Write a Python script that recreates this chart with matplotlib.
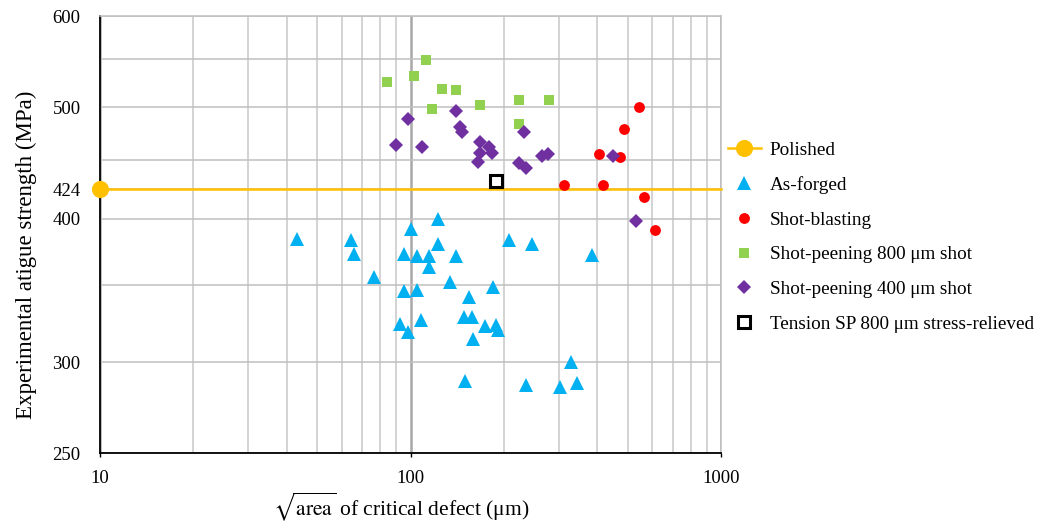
import matplotlib
matplotlib.use("Agg")
import matplotlib.pyplot as plt
from matplotlib.ticker import FixedLocator, NullFormatter, LogLocator

plt.rcParams['font.family'] = ['Liberation Serif', 'DejaVu Serif']
plt.rcParams['mathtext.fontset'] = 'stix'

# polished reference level
polished_x = [10, 1000]
polished_y = [424, 424]

# as-forged
forged_x = [43.0, 64.4, 65.7, 76.1, 95.5, 100.1, 104.9, 115.0, 115.0, 122.4,
            122.9, 139.9, 134.4, 95.5, 104.9, 92.5, 98.2, 107.9, 154.4, 148.8,
            157.8, 159.4, 173.2, 188.3, 191.9, 184.9, 149.4, 207.8, 246.5, 385.5,
            328.5, 235.2, 302.2, 344.2]
forged_y = [383.9, 382.8, 372.8, 355.5, 372.5, 391.7, 370.8, 370.8, 363.0, 380.0,
            400.0, 370.8, 352.2, 346.0, 346.4, 324.0, 318.6, 326.6, 341.9, 328.2,
            328.7, 314.0, 322.4, 323.0, 319.7, 349.1, 289.1, 382.8, 380.0, 372.0,
            300.4, 286.8, 285.7, 287.5]

# shot-blasting
blast_x = [542.5, 485.3, 405.3, 473.6, 313.2, 416.6, 563.0, 614.1]
blast_y = [499.6, 478.5, 455.6, 452.8, 427.6, 427.6, 418.0, 390.6]

# shot-peening, 800 um shot
sp800_x = [84, 103, 112, 117, 126, 140, 168, 224, 280, 224]
sp800_y = [526, 532, 549, 498, 518, 517, 502, 507, 507, 483]

# shot-peening, 400 um shot
sp400_x = [89.6, 98.2, 109.2, 140.2, 144.4, 146.6, 165.1, 167.9, 167.9, 179.5,
           182.4, 223.8, 232.3, 235.7, 265.4, 278.2, 447.3, 532.1]
sp400_y = [463.2, 488.4, 462.0, 496.0, 480.0, 476.0, 448.0, 466.4, 456.0, 462.0,
           456.0, 447.3, 475.7, 442.4, 453.0, 455.6, 452.9, 397.7]

# tension, SP 800 um, stress-relieved
tension_x = [188.3]
tension_y = [431.3]

y_ticks = [250, 300, 400, 424, 500, 600]
y_grid = [350, 450, 550]
x_ticks = [10, 100, 1000]

fig = plt.figure(figsize=(10.41, 5.26), dpi=100)
ax = fig.add_axes([100/1041, 1-453.3/526, 621/1041, 437.3/526])

ax.plot(polished_x, polished_y, color='#FFC000', lw=1.8, marker='o', ms=11.3,
        markevery=[0], clip_on=False, zorder=4, label='Polished')
ax.plot(forged_x, forged_y, ls='none', marker='^', ms=9.5, color='#00B0F0',
        mew=0, zorder=5, label='As-forged')
ax.plot(blast_x, blast_y, ls='none', marker='o', ms=7.8, color='#FF0000',
        mew=0, zorder=5, label='Shot-blasting')
ax.plot(sp800_x, sp800_y, ls='none', marker='s', ms=7.8, color='#92D050',
        mew=0, zorder=5, label='Shot-peening 800 μm shot')
ax.plot(sp400_x, sp400_y, ls='none', marker='D', ms=7.0, color='#7030A0',
        mew=0, zorder=5, label='Shot-peening 400 μm shot')
ax.plot(tension_x, tension_y, ls='none', marker='s', ms=8.3, mfc='white',
        mec='black', mew=2.2, zorder=6,
        label='Tension SP 800 μm stress-relieved')

ax.set_xscale('log')
ax.set_yscale('log')
ax.set_xlim(10, 1000)
ax.set_ylim(250, 600)

ax.xaxis.set_major_locator(FixedLocator(x_ticks))
ax.set_xticklabels([str(v) for v in x_ticks])
ax.xaxis.set_minor_locator(LogLocator(base=10, subs=range(2, 10)))
ax.xaxis.set_minor_formatter(NullFormatter())

ax.yaxis.set_major_locator(FixedLocator(y_ticks))
ax.set_yticklabels([str(v) for v in y_ticks])
ax.yaxis.set_minor_locator(FixedLocator(y_grid))
ax.yaxis.set_minor_formatter(NullFormatter())

ax.tick_params(axis='x', which='major', length=3, width=1, pad=9,
               labelsize=13.5, colors='black')
ax.tick_params(axis='x', which='minor', length=0)
ax.tick_params(axis='y', which='both', length=0, pad=14, labelsize=13.5)

ax.grid(True, which='minor', axis='x', color='#c8c8c8', lw=1.1, zorder=0)
ax.grid(True, which='major', axis='x', color='#a8a8a8', lw=1.8, zorder=0)
ax.grid(True, which='both', axis='y', color='#c0c0c0', lw=1.1, zorder=0)
ax.set_axisbelow(True)

for s in ['top', 'right']:
    ax.spines[s].set_color('#c0c0c0')
    ax.spines[s].set_linewidth(1.1)
for s in ['left', 'bottom']:
    ax.spines[s].set_color('black')
    ax.spines[s].set_linewidth(1.3)

ax.set_ylabel('Experimental atigue strength (MPa)', fontsize=16.5)
ax.yaxis.set_label_coords((37 - 100) / 621, (453.3 - 255) / 437.3)
ax.set_xlabel(r'$\sqrt{\mathrm{area}}$ of critical defect (μm)', fontsize=15.5)
ax.xaxis.set_label_coords((401.5 - 100) / 621, (453.3 - 490) / 437.3)

fig.legend(loc='center left', bbox_to_anchor=(728/1041, 1-237/526),
           frameon=False, fontsize=13.8, borderpad=0, borderaxespad=0,
           handlelength=1.72, handletextpad=0.47, labelspacing=0.9,
           numpoints=1)

fig.savefig('out.png', dpi=100)
